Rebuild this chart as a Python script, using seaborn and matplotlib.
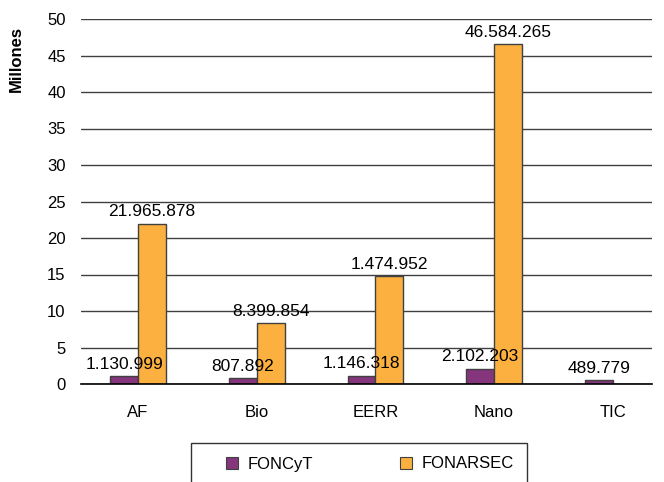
import pandas as pd
import matplotlib.pyplot as plt
import seaborn as sns
import numpy as np

categories = ['AF', 'Bio', 'EERR', 'Nano', 'TIC']
foncyt = [1.130999, 0.807892, 1.146318, 2.102203, 0.489779]
fonarsec = [21.965878, 8.399854, 14.74952, 46.584265, 0.0]
foncyt_labels = ['1.130.999', '807.892', '1.146.318', '2.102.203', '489.779']
fonarsec_labels = ['21.965.878', '8.399.854', '1.474.952', '46.584.265', '']
series = ['FONCyT', 'FONARSEC']
colors = ['#84357B', '#FBB040']
yticks = [0, 5, 10, 15, 20, 25, 30, 35, 40, 45, 50]

df = pd.DataFrame({
    'cat': categories * 2,
    'fondo': [series[0]] * 5 + [series[1]] * 5,
    'monto': foncyt + fonarsec,
})

sns.set_style('white')
plt.rcParams['font.family'] = ['Liberation Sans', 'DejaVu Sans']
plt.rcParams['text.color'] = 'black'
plt.rcParams['axes.labelcolor'] = 'black'
plt.rcParams['xtick.color'] = 'black'
plt.rcParams['ytick.color'] = 'black'

fig = plt.figure(figsize=(6.64, 4.82), dpi=100)
ax = fig.add_axes([81 / 664, 1 - 384 / 482, (652 - 81) / 664, (384 - 19) / 482])

sns.barplot(data=df, x='cat', y='monto', hue='fondo', palette=colors, width=0.47,
            edgecolor='#404040', linewidth=1, saturation=1, ax=ax, legend=False)

for cont, labs in zip(ax.containers, [foncyt_labels, fonarsec_labels]):
    ax.bar_label(cont, labels=labs, padding=3, fontsize=12.5)

ax.set_ylim(0, 50)
ax.set_xlim(-0.48, 4.33)
ax.set_yticks(yticks)
ax.yaxis.grid(True, color='#404040', linewidth=1)
ax.set_axisbelow(True)
for s in ['left', 'right', 'top']:
    ax.spines[s].set_visible(False)
ax.spines['bottom'].set_color('black')
ax.spines['bottom'].set_linewidth(1.2)
ax.tick_params(axis='y', length=0, pad=11, labelsize=12)
ax.tick_params(axis='x', length=0, pad=15, labelsize=12)
ax.set_xlabel('')
ax.set_ylabel('Millones', fontsize=12, fontweight='bold')
ax.yaxis.set_label_coords(-0.10, 0.89)

# legend box
handles = [plt.Rectangle((0, 0), 1, 1, facecolor=c, edgecolor='#404040', linewidth=0.8) for c in colors]
fig.legend(handles, series, loc='center left', bbox_to_anchor=(226 / 664, 1 - 464 / 482),
           ncol=2, frameon=False, fontsize=12, handlelength=0.7, handleheight=0.7,
           handletextpad=0.6, columnspacing=5.2, borderpad=0, borderaxespad=0)
fig.patches.append(plt.Rectangle((191 / 664, -0.01), (527 - 191) / 664, (482 - 443) / 482 + 0.01,
                                 transform=fig.transFigure, fill=False, edgecolor='#333333', linewidth=1))

plt.savefig('out.png', dpi=100)
